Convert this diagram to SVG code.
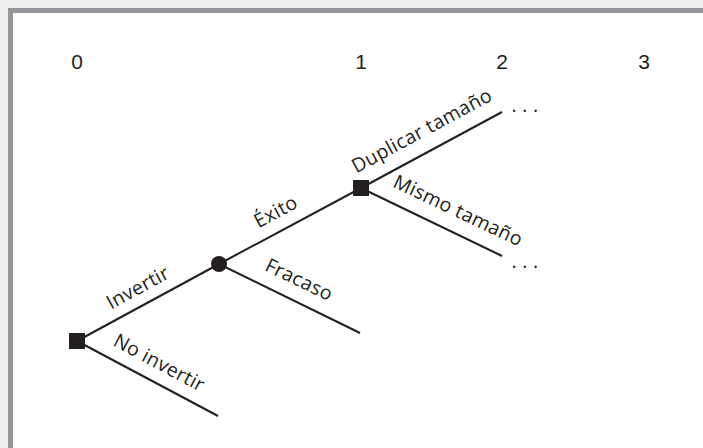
<svg xmlns="http://www.w3.org/2000/svg" width="703" height="448" viewBox="0 0 703 448">
<style>
.lbl{font-family:"Open Sans","Noto Sans","Liberation Sans",sans-serif;font-size:19.5px;letter-spacing:0.3px;fill:#231f20;text-anchor:middle}
.num{font-family:"Liberation Sans",Arial,sans-serif;font-size:21px;fill:#231f20;text-anchor:middle}
.br{stroke:#231f20;stroke-width:2;fill:none}
.dec{fill:#231f20}
</style>
<rect x="0" y="0" width="703" height="448" fill="#eeeeee"/>
<rect x="8" y="8" width="700" height="445" fill="#959498"/>
<rect x="13" y="13" width="695" height="440" fill="#ffffff"/>
<g id="periods">
<text class="num" x="77" y="69">0</text>
<text class="num" x="361" y="69">1</text>
<text class="num" x="502" y="69">2</text>
<text class="num" x="644" y="69">3</text>
</g>
<g id="connectors">
<line class="br" x1="77" y1="341" x2="219" y2="264"/>
<line class="br" x1="77" y1="341" x2="218" y2="416"/>
<line class="br" x1="219" y1="264" x2="361" y2="188"/>
<line class="br" x1="219" y1="264" x2="360" y2="333"/>
<line class="br" x1="361" y1="188" x2="502" y2="112"/>
<line class="br" x1="361" y1="188" x2="502" y2="256"/>
</g>
<g id="labels">
<text class="lbl" transform="translate(139,290) rotate(-28.5)" y="4">Invertir</text>
<text class="lbl" transform="translate(158,365) rotate(28)" y="4">No invertir</text>
<text class="lbl" transform="translate(277,214) rotate(-28.2)" y="4">Éxito</text>
<text class="lbl" transform="translate(298,282) rotate(25.8)" y="4">Fracaso</text>
<text class="lbl" transform="translate(423,133) rotate(-28.3)" y="4">Duplicar tamaño</text>
<text class="lbl" transform="translate(457,213) rotate(25.4)" y="4">Mismo tamaño</text>
</g>
<g id="node-decision0"><rect class="dec" x="69" y="333" width="16" height="16"/></g>
<g id="node-chance"><circle class="dec" cx="219" cy="264" r="8"/></g>
<g id="node-decision1"><rect class="dec" x="353" y="180" width="16" height="16"/></g>
<g id="node-cont1"><text class="lbl" x="525" y="112">. . .</text></g>
<g id="node-cont2"><text class="lbl" x="525" y="268">. . .</text></g>
</svg>
